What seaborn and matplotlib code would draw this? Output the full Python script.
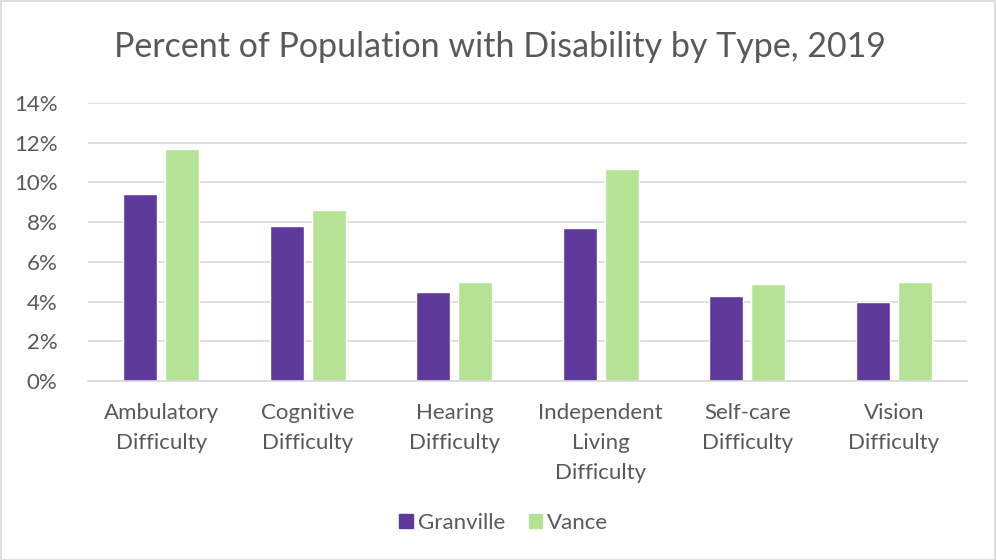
import matplotlib
matplotlib.use("Agg")
import matplotlib.pyplot as plt
import seaborn as sns
import pandas as pd
from matplotlib.patches import Rectangle
from matplotlib.ticker import FuncFormatter, MultipleLocator

categories = ["Ambulatory\nDifficulty", "Cognitive\nDifficulty", "Hearing\nDifficulty",
              "Independent\nLiving\nDifficulty", "Self-care\nDifficulty", "Vision\nDifficulty"]
granville = [9.4, 7.8, 4.5, 7.7, 4.3, 4.0]
vance = [11.7, 8.6, 5.0, 10.7, 4.9, 5.0]
series = ["Granville", "Vance"]
colors = ["#5E3A9C", "#B5E395"]

df = pd.DataFrame({
    "cat": categories * 2,
    "val": granville + vance,
    "county": [series[0]] * len(categories) + [series[1]] * len(categories),
})

sns.set_theme(style="white")
plt.rcParams["font.family"] = ["Lato", "DejaVu Sans"]
TXT = "#595959"

fig = plt.figure(figsize=(9.96, 5.6), dpi=100)
ax = fig.add_axes([88 / 996, 1 - 381 / 560, 879 / 996, 278 / 560])

sns.barplot(data=df, x="cat", y="val", hue="county", palette=colors, ax=ax,
            width=0.574, gap=0.19, saturation=1, legend=False)

ax.set_ylim(0, 14)
ax.yaxis.set_major_locator(MultipleLocator(2))
ax.yaxis.set_major_formatter(FuncFormatter(lambda v, p: f"{v:.0f}%"))
ax.grid(axis="y", color="#D9D9D9", linewidth=1.2)
ax.set_axisbelow(True)
for s in ["top", "right", "left"]:
    ax.spines[s].set_visible(False)
ax.spines["bottom"].set_color("#D9D9D9")
ax.spines["bottom"].set_linewidth(1.2)
ax.set_xlabel("")
ax.set_ylabel("")
ax.tick_params(axis="both", length=0, labelsize=16, colors=TXT)
ax.tick_params(axis="y", pad=22)
ax.tick_params(axis="x", pad=16)
for lab in ax.get_xticklabels():
    lab.set_linespacing(1.62)
    lab.set_verticalalignment("top")

fig.text(0.502, 1 - 47 / 560, "Percent of Population with Disability by Type, 2019",
         ha="center", va="center", fontsize=24.5, color=TXT)

handles = [Rectangle((0, 0), 1, 1, color=c) for c in colors]
fig.legend(handles, series, loc="center", bbox_to_anchor=(0.506, 1 - 523 / 560), ncol=2,
           frameon=False, fontsize=16, handlelength=0.62, handleheight=0.62,
           handletextpad=0.22, columnspacing=1.05, labelcolor=TXT)

fig.patches.append(Rectangle((0.5 / 996, 0.5 / 560), 1 - 1.5 / 996, 1 - 1.5 / 560,
                             transform=fig.transFigure, fill=False,
                             edgecolor="#D9D9D9", linewidth=1.2))

fig.savefig("out.png", dpi=100)
